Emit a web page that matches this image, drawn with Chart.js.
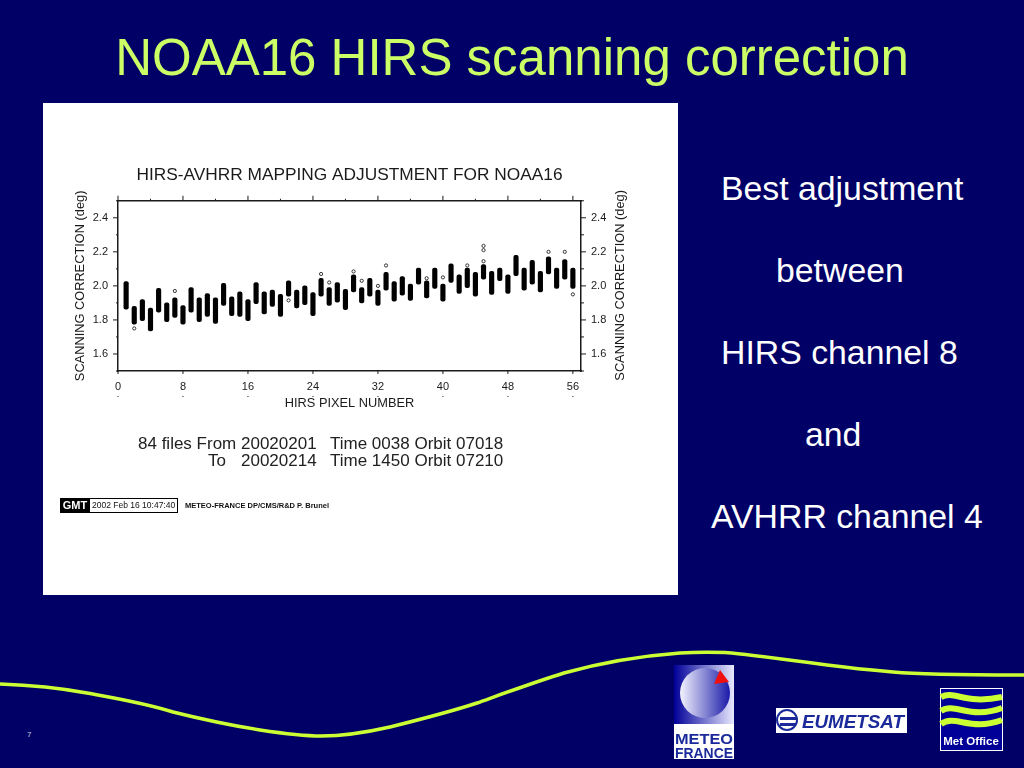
<!DOCTYPE html>
<html>
<head>
<meta charset="utf-8">
<title>NOAA16 HIRS scanning correction</title>
<script src="https://cdn.jsdelivr.net/npm/chart.js@4"></script>
<style>
  html, body { margin: 0; padding: 0; background: #000066; }
  body { width: 1024px; height: 768px; position: relative; overflow: hidden; font-family: "Liberation Sans", Arial, sans-serif; }
  .abs { position: absolute; white-space: pre; }
  #title { left: 0; width: 1024px; top: 28px; text-align: center; font-size: 51px; line-height: 60px; color: #ccff66; }
  #panel { left: 43px; top: 103px; width: 635px; height: 492px; background: #fff; }
  #wrap { left: 43px; top: 103px; width: 613px; height: 492px; }
  .side { color: #fff; font-size: 33.8px; line-height: 36px; }
  .note { color: #222; font-size: 17px; line-height: 17px; }
  #curve { left: 0; top: 0; }
</style>
</head>
<body>
<div class="abs" id="title">NOAA16 HIRS scanning correction</div>
<div class="abs" id="panel"></div>
<div class="abs" id="wrap"><canvas id="chart" width="613" height="492"></canvas></div>

<div class="abs note" style="left:138px;top:435px">84 files From 20020201</div>
<div class="abs note" style="left:330px;top:435px">Time 0038 Orbit 07018</div>
<div class="abs note" style="left:208px;top:452px">To</div>
<div class="abs note" style="left:241px;top:452px">20020214</div>
<div class="abs note" style="left:330px;top:452px">Time 1450 Orbit 07210</div>
<div class="abs" style="left:60px;top:498px;width:116px;height:13px;border:1px solid #000;background:#fff"></div>
<div class="abs" style="left:60px;top:498px;width:30px;height:15px;background:#000;color:#fff;font:bold 11px/15px 'Liberation Sans';text-align:center">GMT</div>
<div class="abs" style="left:92px;top:498px;font:8.5px/15px 'Liberation Sans';color:#111">2002 Feb 16 10:47:40</div>
<div class="abs" style="left:185px;top:498px;font:bold 7.5px/15px 'Liberation Sans';color:#111">METEO-FRANCE DP/CMS/R&amp;D P. Brunel</div>

<div class="abs side" style="left:721px;top:170px">Best adjustment</div>
<div class="abs side" style="left:776px;top:252px">between</div>
<div class="abs side" style="left:721px;top:334px">HIRS channel 8</div>
<div class="abs side" style="left:805px;top:416px">and</div>
<div class="abs side" style="left:711px;top:498px">AVHRR channel 4</div>
<div class="abs" style="left:27px;top:730px;color:#ccd;font-size:8px">7</div>

<svg class="abs" id="curve" width="1024" height="768">
  <path d="M0 684 C 30 685, 60 688, 87 693 C 120 699, 145 703, 173 712 C 205 720, 235 726, 260 730 C 280 733, 300 736, 321 736 C 345 736, 368 732, 390 727 C 422 719, 450 712, 477 703 C 505 693, 535 682, 564 673 C 600 663, 640 656, 680 653 C 695 652, 710 652, 725 652.5 C 745 654, 790 660, 827 665 C 850 668, 870 670, 893 672 C 915 674, 980 675, 1024 675" fill="none" stroke="#ccff33" stroke-width="3.5"/>
  <!-- Meteo France -->
  <defs>
    <linearGradient id="g1" x1="0" x2="1"><stop offset="0" stop-color="#000099"/><stop offset="1" stop-color="#e8e8ff"/></linearGradient>
    <linearGradient id="g2" x1="0" x2="1"><stop offset="0" stop-color="#f4f4ff"/><stop offset="1" stop-color="#1a1aa8"/></linearGradient>
  </defs>
  <rect x="674" y="665" width="60" height="59" fill="url(#g1)"/>
  <circle cx="705" cy="693" r="25" fill="url(#g2)"/>
  <polygon points="720,670 729,682 714,684" fill="#f01010"/>
  <rect x="674" y="724" width="60" height="35" fill="#fff"/>
  <text x="675" y="744" textLength="58" lengthAdjust="spacingAndGlyphs" font-family="Liberation Sans" font-weight="bold" font-size="15" fill="#1a2a9a">METEO</text>
  <text x="675" y="758" textLength="58" lengthAdjust="spacingAndGlyphs" font-family="Liberation Sans" font-weight="bold" font-size="15" fill="#1a2a9a">FRANCE</text>
  <!-- Eumetsat -->
  <rect x="776" y="708" width="131" height="25" fill="#fff"/>
  <circle cx="787" cy="720" r="10" fill="none" stroke="#1a2a9a" stroke-width="2"/>
  <rect x="780" y="717" width="16" height="3" fill="#1a2a9a"/>
  <rect x="780" y="723" width="16" height="3" fill="#1a2a9a"/>
  <text x="802" y="728" textLength="102" lengthAdjust="spacingAndGlyphs" font-family="Liberation Sans" font-weight="bold" font-style="italic" font-size="19" fill="#1a2a9a">EUMETSAT</text>
  <!-- Met Office -->
  <rect x="940.5" y="688.5" width="62" height="62" fill="#000099" stroke="#fff"/>
  <path d="M941 697 C 955 690, 965 705, 1002 697 M941 711 C 955 702, 970 720, 1002 708 M941 724 C 955 714, 970 732, 1002 720" fill="none" stroke="#ccff33" stroke-width="6"/>
  <text x="971" y="745" text-anchor="middle" font-family="Liberation Sans" font-weight="bold" font-size="11.5" fill="#fff">Met Office</text>
</svg>

<script>
// one bar per HIRS pixel, low and high end of the black column of points
const pixels = [1,2,3,4,5,6,7,8,9,10,11,12,13,14,15,16,17,18,19,20,21,22,23,24,25,26,27,28,
                29,30,31,32,33,34,35,36,37,38,39,40,41,42,43,44,45,46,47,48,49,50,51,52,53,54,55,56];
const lows = [1.863,1.775,1.795,1.735,1.845,1.79,1.815,1.775,1.845,1.79,1.82,1.78,1.885,1.825,1.82,1.795,1.895,1.835,1.88,1.82,1.94,1.87,1.89,1.825,1.94,1.885,1.905,1.86,
              1.965,1.90,1.94,1.885,1.975,1.91,1.945,1.915,2.01,1.93,1.985,1.91,2.02,1.955,1.99,1.94,2.04,1.95,2.03,1.955,2.06,1.975,2.01,1.965,2.07,1.985,2.04,1.985];
const highs = [2.025,1.88,1.92,1.87,1.985,1.90,1.93,1.885,1.99,1.93,1.955,1.93,2.015,1.935,1.965,1.92,2.02,1.965,1.975,1.95,2.03,1.975,2.0,1.96,2.045,1.99,2.02,1.98,
               2.065,1.99,2.045,1.975,2.08,2.025,2.055,2.01,2.105,2.03,2.105,2.01,2.13,2.065,2.105,2.08,2.125,2.085,2.105,2.065,2.18,2.105,2.15,2.085,2.17,2.105,2.155,2.105];

// single circles standing away from the columns
const outlierPixels = [2,7,21,25,26,29,30,32,33,38,40,43,45,45,45,53,55,56];
const outlierValues = [1.75,1.97,1.915,2.07,2.02,2.085,2.03,2.0,2.12,2.045,2.05,2.12,2.235,2.21,2.145,2.2,2.2,1.95];

const xTicks = [0,8,16,24,32,40,48,56];
const xMinorTicks = [4,12,20,28,36,44,52];
const yTicks = [1.6,1.8,2.0,2.2,2.4];
const yMinorTicks = [1.5,1.7,1.9,2.1,2.3,2.5];

const yTitle = 'SCANNING CORRECTION (deg)';
const ink = '#1a1a1a';
const tickFont = { family: 'Liberation Sans', size: 11 };
const labelFont = { family: 'Liberation Sans', size: 12.8 };

// GMT style frame ticks, long ones at labels and short ones between
const frameTicks = {
  id: 'frameTicks',
  afterDraw(chart) {
    const c = chart.ctx, a = chart.chartArea, sx = chart.scales.x, sy = chart.scales.y;
    c.save();
    c.strokeStyle = ink;
    c.lineWidth = 1;
    const line = (x1, y1, x2, y2) => { c.beginPath(); c.moveTo(x1, y1); c.lineTo(x2, y2); c.stroke(); };
    xTicks.forEach(v => {
      const x = sx.getPixelForValue(v);
      line(x, a.top, x, a.top - 5);
      line(x, a.bottom, x, a.bottom + 3);
      line(x, a.bottom + 25, x, a.bottom + 26);
    });
    xMinorTicks.forEach(v => {
      const x = sx.getPixelForValue(v);
      line(x, a.top, x, a.top - 2);
    });
    yTicks.forEach(v => {
      const y = sy.getPixelForValue(v);
      line(a.left, y, a.left - 5, y);
      line(a.right, y, a.right + 5, y);
    });
    yMinorTicks.forEach(v => {
      const y = sy.getPixelForValue(v);
      line(a.left, y, a.left - 2, y);
      line(a.right, y, a.right + 3, y);
    });
    // right axis title reads bottom to top, same as the left one
    c.translate(a.right + 39, (a.top + a.bottom) / 2 - 0.5);
    c.rotate(-Math.PI / 2);
    c.fillStyle = ink;
    c.font = '12.8px "Liberation Sans"';
    c.textAlign = 'center';
    c.textBaseline = 'middle';
    c.fillText(yTitle, 0, 0);
    c.restore();
  }
};

const hidden = { drawOnChartArea: false, drawTicks: false };
const edge = { color: ink, width: 1.5 };

new Chart(document.getElementById('chart'), {
  type: 'bar',
  plugins: [frameTicks],
  data: {
    datasets: [
      {
        data: pixels.map((p, i) => ({ x: p, y: [lows[i], highs[i]] })),
        backgroundColor: '#000',
        barThickness: 4.5,
        borderRadius: 2,
        borderSkipped: false
      },
      {
        type: 'scatter',
        data: outlierPixels.map((p, i) => ({ x: p, y: outlierValues[i] })),
        pointStyle: 'circle',
        pointRadius: 1.6,
        borderWidth: 0.9,
        borderColor: '#222',
        backgroundColor: 'rgba(255,255,255,0)'
      }
    ]
  },
  options: {
    responsive: false,
    animation: false,
    layout: { padding: { left: 30, right: 30, top: 0, bottom: 184 } },
    plugins: {
      legend: { display: false },
      tooltip: { enabled: false },
      title: {
        display: true,
        text: 'HIRS-AVHRR MAPPING ADJUSTMENT FOR NOAA16',
        color: ink,
        font: { family: 'Liberation Sans', size: 17.3, weight: 'normal' },
        padding: { top: 62, bottom: 0 }
      }
    },
    scales: {
      x: {
        type: 'linear', min: 0, max: 57, offset: false,
        afterFit: s => { s.height = 40; },
        afterBuildTicks: s => { s.ticks = xTicks.map(v => ({ value: v })); },
        grid: hidden, border: edge,
        ticks: { color: ink, font: tickFont, maxRotation: 0, padding: 9 },
        title: { display: true, text: 'HIRS PIXEL NUMBER', color: ink, font: labelFont, padding: { top: 2, bottom: 0 } }
      },
      x2: {
        type: 'linear', position: 'top', min: 0, max: 57,
        afterFit: s => { s.height = 15; },
        grid: hidden, border: edge, ticks: { display: false }
      },
      y: {
        min: 1.5, max: 2.5,
        afterFit: s => { s.width = 45; },
        afterBuildTicks: s => { s.ticks = yTicks.map(v => ({ value: v })); },
        grid: hidden, border: edge,
        ticks: { color: ink, font: tickFont, padding: 10, callback: v => v.toFixed(1) },
        title: { display: true, text: yTitle, color: ink, font: labelFont, padding: { top: 0, bottom: 0 } }
      },
      y2: {
        position: 'right', min: 1.5, max: 2.5,
        afterFit: s => { s.width = 45; },
        afterBuildTicks: s => { s.ticks = yTicks.map(v => ({ value: v })); },
        grid: hidden, border: edge,
        ticks: { color: ink, font: tickFont, padding: 10, callback: v => v.toFixed(1) }
      }
    }
  }
});
</script>
</body>
</html>
